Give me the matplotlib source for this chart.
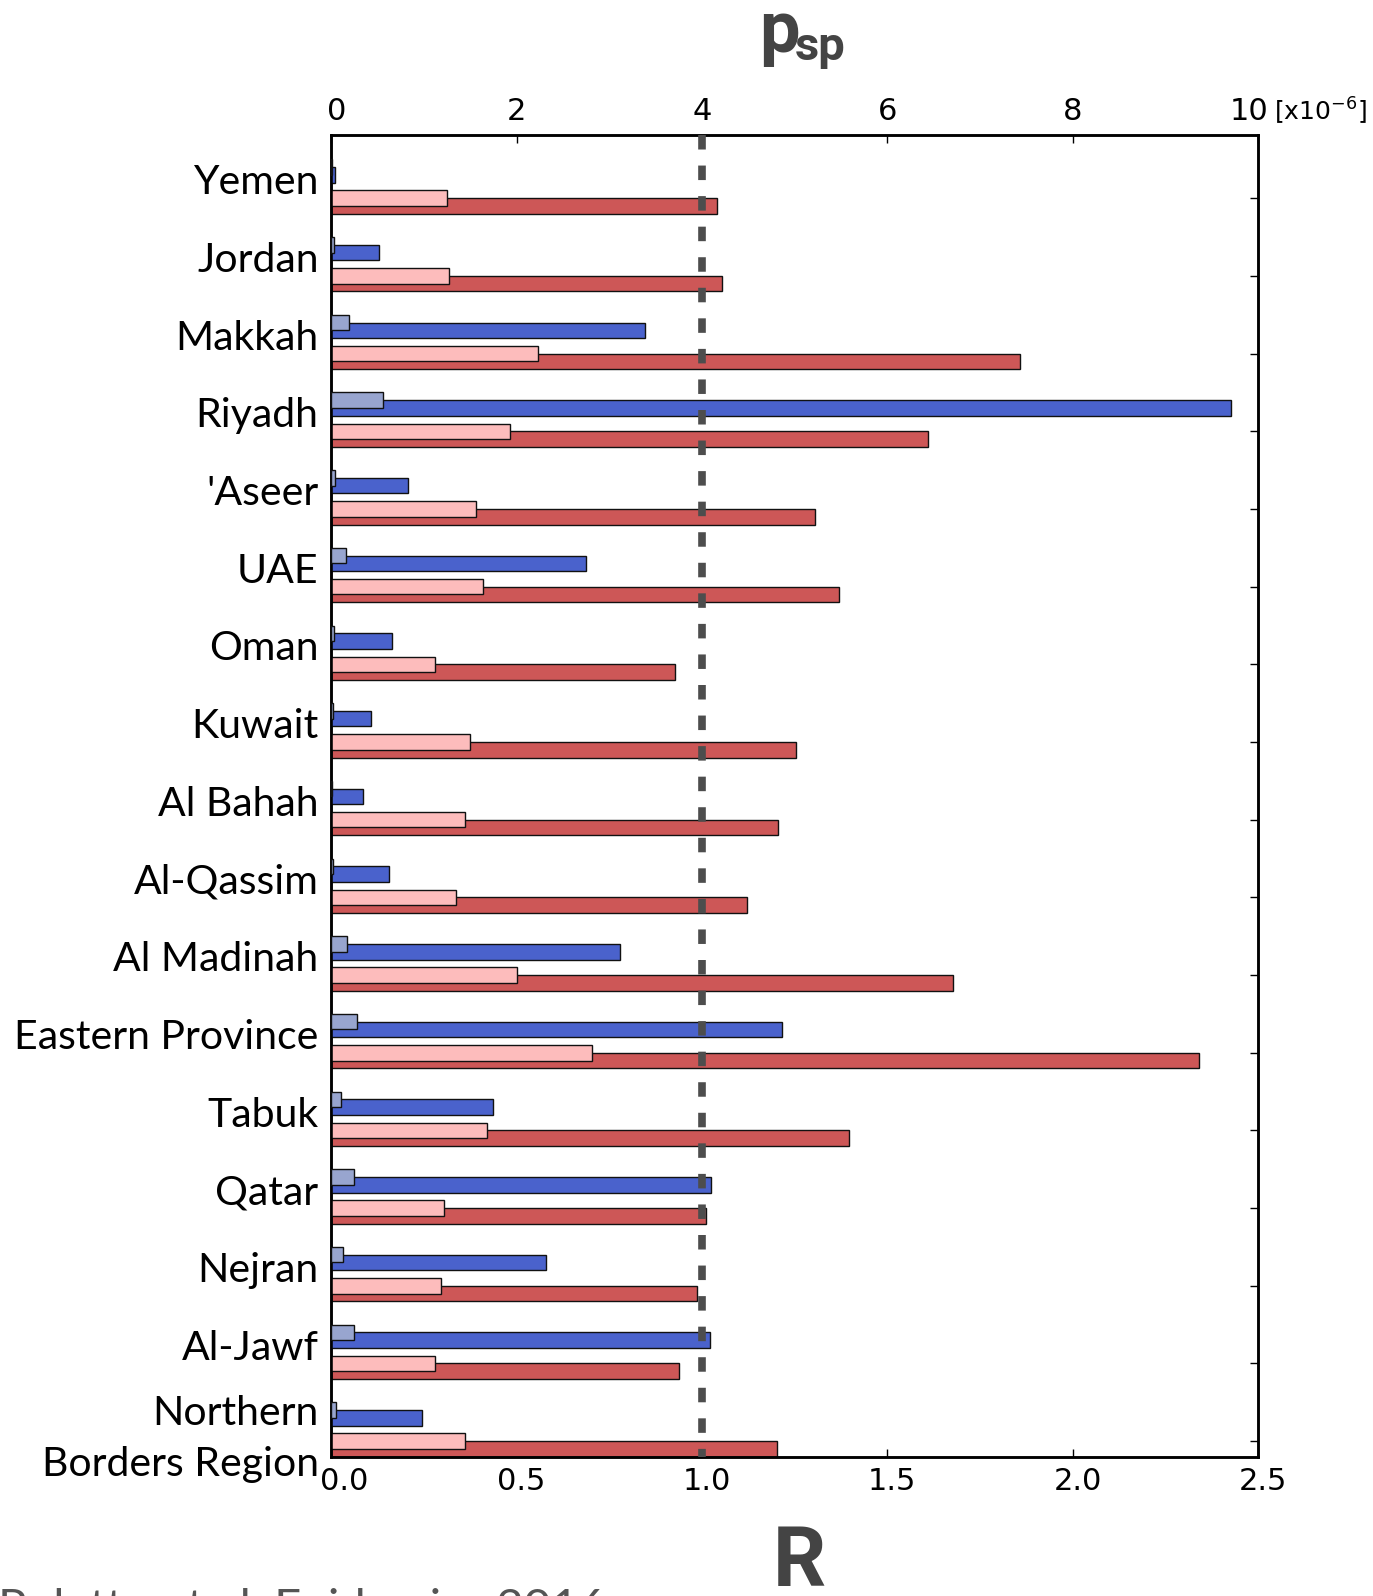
import matplotlib.pyplot as plt
from matplotlib.transforms import blended_transform_factory, ScaledTranslation

# regions, top to bottom
regions = ["Yemen", "Jordan", "Makkah", "Riyadh", "'Aseer", "UAE", "Oman", "Kuwait",
           "Al Bahah", "Al-Qassim", "Al Madinah", "Eastern Province", "Tabuk", "Qatar",
           "Nejran", "Al-Jawf", "Northern\nBorders Region"]

# spillover probability p_sp [x10^-6]
psp_low = [0.01, 0.025, 0.19, 0.56, 0.04, 0.16, 0.03, 0.02, 0.01, 0.02, 0.17, 0.28,
           0.10, 0.24, 0.13, 0.24, 0.05]
psp = [0.045, 0.51, 3.38, 9.71, 0.83, 2.75, 0.65, 0.43, 0.34, 0.62, 3.11, 4.86,
       1.74, 4.10, 2.32, 4.09, 0.98]

# reproductive number R
r_low = [0.313, 0.317, 0.557, 0.483, 0.391, 0.410, 0.279, 0.375, 0.361, 0.336, 0.501,
         0.702, 0.419, 0.303, 0.295, 0.281, 0.361]
r_high = [1.040, 1.053, 1.857, 1.610, 1.306, 1.369, 0.927, 1.253, 1.204, 1.122, 1.676,
          2.341, 1.396, 1.012, 0.987, 0.938, 1.203]

c_psp_low = '#98a5cf'
c_psp = '#4a62cc'
c_r_low = '#fdbcbc'
c_r = '#cd5757'

ypos = list(range(len(regions)))
h = 0.2

fig = plt.figure(figsize=(13.73, 15.96), dpi=100)
ax = fig.add_axes([0.2413, 0.0868, 0.675, 0.8284])
ax2 = ax.twiny()

# R bars on the bottom axis
ax.barh([y + 0.10 for y in ypos], r_high, height=h, color=c_r, edgecolor='#111',
        linewidth=1, zorder=2)
ax.barh(ypos, r_low, height=h, color=c_r_low, edgecolor='#111', linewidth=1, zorder=3)

# p_sp bars on the top axis
ax2.barh([y - 0.30 for y in ypos], psp, height=h, color=c_psp, edgecolor='#111',
         linewidth=1, zorder=2)
ax2.barh([y - 0.40 for y in ypos], psp_low, height=h, color=c_psp_low, edgecolor='#111',
         linewidth=1, zorder=3)

ax.set_xlim(0, 2.5)
ax2.set_xlim(0, 10)
ax.set_ylim(16.21, -0.81)

# epidemic threshold R = 1 (p_sp = 4)
ax2.plot([4, 4], [-0.81, 16.21], color='#4d4d4d', lw=5.5, dashes=(1.9, 2.1),
         dash_capstyle='butt', zorder=5)

ax.set_xticks([0, 0.5, 1.0, 1.5, 2.0, 2.5])
ax.set_xticklabels(['0.0', '0.5', '1.0', '1.5', '2.0', '2.5'])
ax.tick_params(axis='x', direction='in', length=6, width=1, labelsize=22, pad=7)
ax.set_yticks(ypos)
ax.set_yticklabels([])
ax.tick_params(axis='y', direction='in', left=True, right=True, length=6, width=1)

# nudge the bottom labels a little to the right, the first one more
for i, lbl in enumerate(ax.get_xticklabels()):
    dx = 0.13 if i == 0 else 0.05
    lbl.set_transform(lbl.get_transform() + ScaledTranslation(dx, 0, fig.dpi_scale_trans))

ax2.set_xticks([0, 2, 4, 6, 8, 10])
ax2.tick_params(axis='x', direction='in', length=6, width=1, labelsize=22, pad=7)
top_labels = ax2.get_xticklabels()
top_labels[0].set_transform(top_labels[0].get_transform()
                            + ScaledTranslation(0.05, 0, fig.dpi_scale_trans))
top_labels[-1].set_transform(top_labels[-1].get_transform()
                             + ScaledTranslation(-0.09, 0, fig.dpi_scale_trans))

for a in (ax, ax2):
    for s in a.spines.values():
        s.set_linewidth(1.8)

# region names
trans = blended_transform_factory(ax.transAxes, ax.transData)
for y, name in zip(ypos, regions):
    dy = 0.45 if '\n' in name else -0.05
    ax.text(-0.0137, y + dy, name, transform=trans, ha='right', va='baseline',
            multialignment='right', fontsize=29.5, family=['Lato', 'DejaVu Sans'],
            linespacing=1.47)

fig.text(1274 / 1373, 1 - 121 / 1596, '[x10$^{-6}$]', fontsize=18, va='baseline')

title_font = ['Roboto', 'DejaVu Sans']
fig.text(759 / 1373, 1 - 52 / 1596, 'p', fontsize=52, weight='bold',
         family=title_font, color='#444444', va='baseline')
fig.text(795 / 1373, 1 - 60 / 1596, 'sp', fontsize=34, weight='bold',
         family=title_font, color='#444444', va='baseline')
fig.text(799 / 1373, 1 - 1586 / 1596, 'R', fontsize=60, weight='bold',
         family=title_font, color='#444444', ha='center', va='baseline')

fig.text(606 / 1373, 1 - 1622 / 1596, 'Poletto et al. Epidemics 2016', fontsize=34,
         color='#555555', family=['Lato', 'DejaVu Sans'], ha='right', va='baseline')

fig.savefig('out.png', dpi=100)
